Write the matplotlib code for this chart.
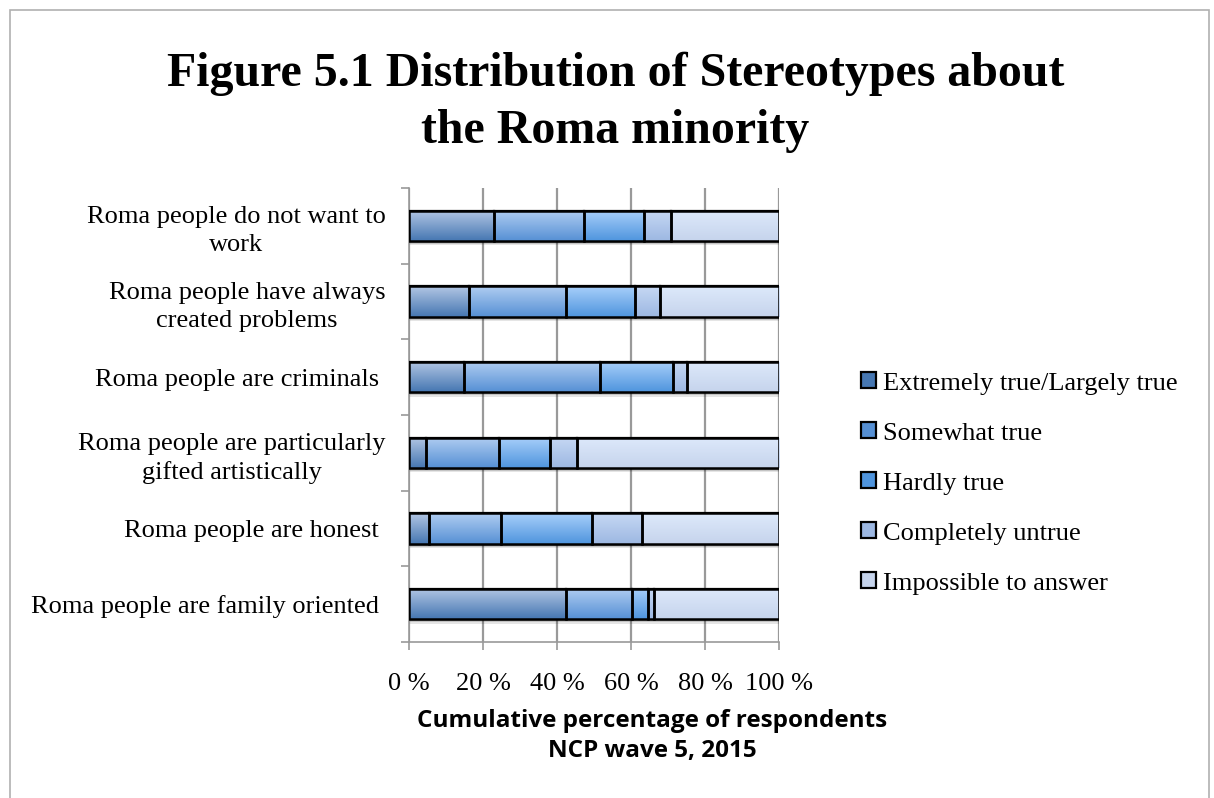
import numpy as np
import matplotlib
matplotlib.use("Agg")
import matplotlib.pyplot as plt
from matplotlib.colors import LinearSegmentedColormap
from matplotlib.patches import Rectangle

statements = [
    "Roma people do not want to\nwork",
    "Roma people have always\ncreated problems",
    "Roma people are criminals ",
    "Roma people are particularly\ngifted artistically",
    "Roma people are honest ",
    "Roma people are family oriented ",
]
series = ["Extremely true/Largely true", "Somewhat true", "Hardly true",
          "Completely untrue", "Impossible to answer"]
extremely = [22.9, 16.2, 14.8, 4.5, 5.5, 42.4]
somewhat = [24.4, 26.2, 36.7, 19.7, 19.4, 18.0]
hardly = [16.2, 18.6, 19.8, 13.8, 24.6, 4.1]
untrue = [7.4, 6.8, 3.7, 7.4, 13.6, 1.8]
no_answer = [29.1, 32.2, 25.0, 54.6, 36.9, 33.7]

# gradient (top, bottom) per series
grads = [("#b2c6e4", "#4677b2"), ("#b0cdf2", "#5690d4"), ("#a8cffa", "#4f95de"),
         ("#c6d8f4", "#9db8e2"), ("#dde9fb", "#c6d4ec")]

plt.rcParams["font.family"] = ["Liberation Serif", "DejaVu Serif"]
fig = plt.figure(figsize=(12.14, 7.98), dpi=100)
fig.patches.append(Rectangle((0.008, -0.1), 0.988, 1.087, transform=fig.transFigure,
                             fill=False, edgecolor="#b0b0b0", lw=1.2))
ax = fig.add_axes([0.3369, 0.1955, 0.3048, 0.569])

data = [extremely, somewhat, hardly, untrue, no_answer]
y = np.arange(len(statements))
h = 0.4
total = np.sum(data, axis=0)
# soft drop shadow under each bar
for dy, a in [(0.06, 0.10), (0.04, 0.14), (0.025, 0.18)]:
    ax.barh(y + dy, total, height=h, color="black", alpha=a, lw=0, zorder=2)

left = np.zeros(len(statements))
for vals, name, (top, bot) in zip(data, series, grads):
    cmap = LinearSegmentedColormap.from_list(name, [top, bot])
    bars = ax.barh(y, vals, left=left, height=h, color=bot, edgecolor="black",
                   lw=1.6, label=name, zorder=3)
    for p in bars:
        x0, y0 = p.get_x(), p.get_y()
        im = ax.imshow(np.linspace(0, 1, 64).reshape(-1, 1), cmap=cmap, aspect="auto",
                       extent=[x0, x0 + p.get_width(), y0 + p.get_height(), y0],
                       zorder=3.5)
        im.set_clip_path(p)
    ax.barh(y, vals, left=left, height=h, fill=False, edgecolor="black", lw=1.8, zorder=4)
    left += np.array(vals)

ax.set_xlim(0, 100)
ax.set_ylim(len(statements) - 0.5, -0.5)
ax.set_xticks(np.arange(0, 101, 20))
ax.set_xticklabels([f"{v} %" for v in range(0, 101, 20)], fontsize=19)
ax.set_yticks(y)
ax.set_yticklabels(statements, fontsize=19, multialignment="center", linespacing=1.35)
ax.set_yticks(np.arange(-0.5, len(statements)), minor=True)
ax.tick_params(axis="y", which="major", length=0, pad=17)
ax.tick_params(axis="y", which="minor", length=6, color="#999999", width=1.2)
ax.tick_params(axis="x", length=6, color="#999999", width=1.2, pad=16)
ax.grid(axis="x", color="#999999", lw=1.6, zorder=0)
ax.set_axisbelow(True)
for s in ("top", "right"):
    ax.spines[s].set_visible(False)
for s in ("left", "bottom"):
    ax.spines[s].set_color("#999999")
    ax.spines[s].set_linewidth(1.2)

ax.set_xlabel("Cumulative percentage of respondents\nNCP wave 5, 2015",
              fontsize=17.5, fontweight="bold", family="Open Sans", linespacing=1.3,
              va="top")
ax.xaxis.set_label_coords(0.657, -0.148)

fig.text(0.507, 0.808, "Figure 5.1 Distribution of Stereotypes about\nthe Roma minority",
         ha="center", va="bottom", fontsize=34.5, fontweight="bold", linespacing=1.38)

handles, labels = ax.get_legend_handles_labels()
leg = fig.legend(handles, labels, loc="center left", bbox_to_anchor=(0.69, 0.394),
                 frameon=False, fontsize=19, handlelength=0.55, handleheight=0.55,
                 handletextpad=0.25, labelspacing=1.05)
for hd, (top, bot) in zip(leg.legend_handles, grads):
    hd.set_facecolor(bot)

fig.savefig("out.png", dpi=100)
